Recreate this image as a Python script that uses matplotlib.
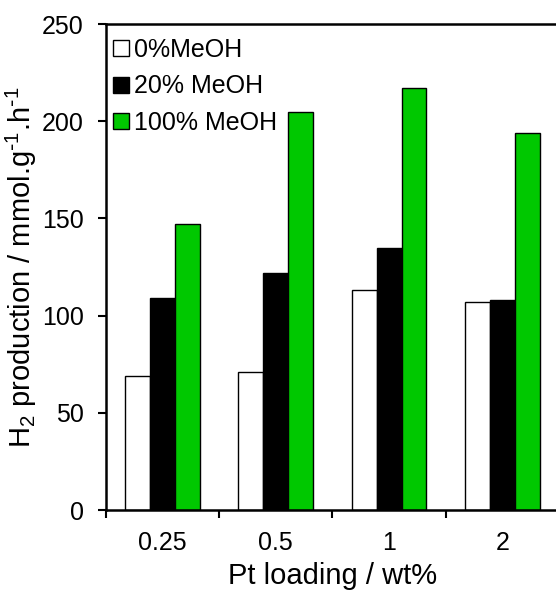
import numpy as np
import matplotlib
matplotlib.use('Agg')
import matplotlib.pyplot as plt
from matplotlib.lines import Line2D

plt.rcParams['font.family'] = 'Liberation Sans'
plt.rcParams['mathtext.default'] = 'regular'

# data
loading = ['0.25', '0.5', '1', '2']
meoh_0 = [69, 71, 113, 107]
meoh_20 = [109, 122, 135, 108]
meoh_100 = [147, 205, 217, 194]

labels = ['0%MeOH', '20% MeOH', '100% MeOH']
colors = ['white', 'black', '#00c800']

fig = plt.figure(figsize=(5.56, 5.91), dpi=100)
ax = fig.add_axes([0.1906, 0.137, 0.8147, 0.8223])

x = np.arange(len(loading))
w = 0.22
for k, vals in enumerate([meoh_0, meoh_20, meoh_100]):
    ax.bar(x + (k - 1) * w, vals, w, color=colors[k], edgecolor='black', linewidth=1)

ax.set_xlim(-0.5, 3.5)
ax.set_ylim(0, 250)
ax.set_yticks([0, 50, 100, 150, 200, 250])
ax.set_xticks(x)
ax.set_xticklabels(loading)
ax.set_xticks(np.arange(-0.5, 4, 1), minor=True)
ax.tick_params(axis='x', which='major', length=0, pad=15, labelsize=18)
ax.tick_params(axis='x', which='minor', length=6, width=1.5, direction='out')
ax.tick_params(axis='y', length=6, width=1.5, direction='out', pad=10, labelsize=18)

for s in ['left', 'bottom', 'top']:
    ax.spines[s].set_linewidth(1.8)
ax.spines['right'].set_visible(False)

ax.set_xlabel('Pt loading / wt%', fontsize=21, labelpad=5)
ax.set_ylabel(r'H$_2$ production / mmol.g$^{\text{-}1}$.h$^{\text{-}1}$', fontsize=21, labelpad=2)

handles = [Line2D([], [], marker='s', linestyle='none', markersize=11,
                  markerfacecolor=c, markeredgecolor='black', markeredgewidth=1)
           for c in colors]
ax.legend(handles, labels, loc='upper left', frameon=False, fontsize=18,
          handlelength=0.5, handletextpad=0.3, labelspacing=0.5,
          borderaxespad=0.15, bbox_to_anchor=(-0.012, 1.0))

fig.savefig('out.png', dpi=100)
